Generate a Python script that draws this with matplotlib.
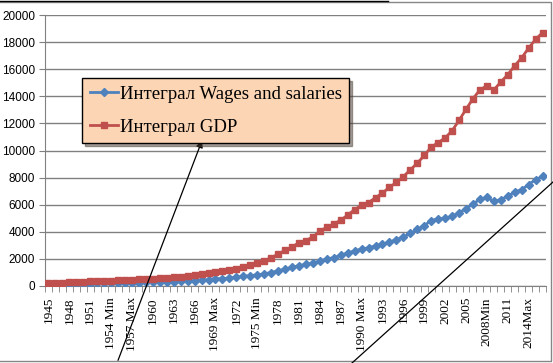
import matplotlib.pyplot as plt
import numpy as np
from matplotlib.lines import Line2D

# data (billions of dollars)
years = list(range(1945, 2017))
marks = {1954: " Min", 1957: " Max", 1969: " Max", 1975: " Min",
         1990: " Max", 2008: "Min", 2014: "Max"}
labels = [str(y) + marks.get(y, "") for y in years]

gdp = [228.0, 227.0, 249.6, 274.5, 272.5, 299.8, 346.9, 367.3, 389.2, 390.5,
       425.5, 449.4, 474.0, 481.2, 521.7, 542.4, 562.2, 603.9, 637.5, 684.5,
       742.3, 813.4, 860.0, 940.7, 1017.6, 1073.3, 1164.9, 1279.1, 1425.4, 1545.2,
       1684.9, 1873.4, 2081.8, 2351.6, 2627.3, 2857.3, 3207.0, 3343.8, 3634.0, 4037.6,
       4339.0, 4579.6, 4855.2, 5236.4, 5641.6, 5963.1, 6158.1, 6520.3, 6858.6, 7287.2,
       7639.7, 8073.1, 8577.6, 9062.8, 9631.2, 10251.0, 10581.9, 10929.1, 11456.5, 12217.2,
       13039.2, 13815.6, 14474.2, 14769.9, 14478.1, 15049.0, 15599.7, 16254.0, 16843.2, 17550.7,
       18206.0, 18695.1]

wages = [117.5, 112.0, 123.1, 135.5, 134.7, 147.0, 171.3, 185.4, 198.7, 197.3,
         212.1, 229.7, 240.7, 241.5, 259.9, 272.9, 280.5, 299.3, 314.8, 337.7,
         363.7, 400.3, 429.0, 472.0, 518.3, 551.6, 584.5, 638.7, 708.6, 772.2,
         814.7, 899.6, 994.0, 1120.7, 1253.3, 1373.5, 1511.4, 1587.5, 1677.5, 1844.9,
         1982.6, 2102.3, 2256.3, 2439.8, 2583.1, 2741.2, 2814.5, 2965.5, 3079.3, 3236.6,
         3418.0, 3616.5, 3876.8, 4181.6, 4458.0, 4825.9, 4954.4, 4996.3, 5138.8, 5420.9,
         5692.0, 6057.4, 6395.2, 6531.9, 6251.3, 6377.5, 6633.2, 6930.3, 7116.7, 7476.9,
         7859.5, 8085.2]

series_names = ["Интеграл Wages and salaries", "Интеграл GDP"]

fig = plt.figure(figsize=(5.53, 3.63), dpi=100)
ax = fig.add_axes([45 / 553, 1 - 286 / 363, 501 / 553, 271 / 363])

x = np.arange(len(years))
ax.plot(x, wages, color="#4F81BD", lw=2, marker="D", markersize=3.6,
        label=series_names[0], zorder=3)
ax.plot(x, gdp, color="#C0504D", lw=2, marker="s", markersize=5,
        label=series_names[1], zorder=3)

ax.set_xlim(-0.5, len(years) - 0.5)
ax.set_ylim(0, 20000)
ax.set_yticks(np.arange(0, 20001, 2000))
ax.yaxis.grid(True, color="#808080", lw=1)
ax.set_axisbelow(True)
for s in ["top", "right"]:
    ax.spines[s].set_visible(False)
ax.spines["left"].set_color("#808080")
ax.spines["bottom"].set_color("#808080")
ax.tick_params(axis="y", length=4, color="#808080", labelsize=8.5, pad=3)
for t in ax.get_yticklabels():
    t.set_fontfamily("Liberation Sans")

# category labels every 3 years, small ticks at every category boundary
ax.set_xticks(x[::3])
ax.set_xticklabels(labels[::3], rotation=90, fontsize=9.5,
                   fontfamily="Liberation Serif")
ax.tick_params(axis="x", length=0, pad=8)
ax.set_xticks(np.arange(-0.5, len(years), 1), minor=True)
ax.tick_params(axis="x", which="minor", length=4, color="#808080")

leg = ax.legend(loc="upper left", bbox_to_anchor=(82 / 553, 1 - 78 / 363),
                bbox_transform=fig.transFigure, frameon=True, fancybox=False,
                shadow=True, facecolor="#FCD5B4", edgecolor="black",
                prop={"family": "Liberation Serif", "size": 13.5},
                handlelength=1.5, handletextpad=0.1, labelspacing=0.85,
                borderpad=0.4, borderaxespad=0)
leg.get_frame().set_alpha(1)
leg.get_frame().set_linewidth(1)

# chart border and sheet lines
fig.add_artist(Line2D([0, 551 / 553, 551 / 553, 0], [1 - 2 / 363, 1 - 2 / 363, 1 - 361 / 363, 1 - 361 / 363],
                      color="#868686", lw=1))
fig.add_artist(Line2D([0, 388 / 553], [1 - 1 / 363, 1 - 1 / 363], color="black", lw=1))

# drawn lines over the sheet
ax.annotate("", xy=(203 / 553, 1 - 138 / 363), xycoords="figure fraction",
            xytext=(117 / 553, 0), textcoords="figure fraction",
            arrowprops=dict(arrowstyle="-|>", color="black", lw=0.9, mutation_scale=10))
fig.add_artist(Line2D([352 / 553, 1], [0, 1 - 182 / 363], color="black", lw=0.9))

fig.savefig("out.png", dpi=100)
